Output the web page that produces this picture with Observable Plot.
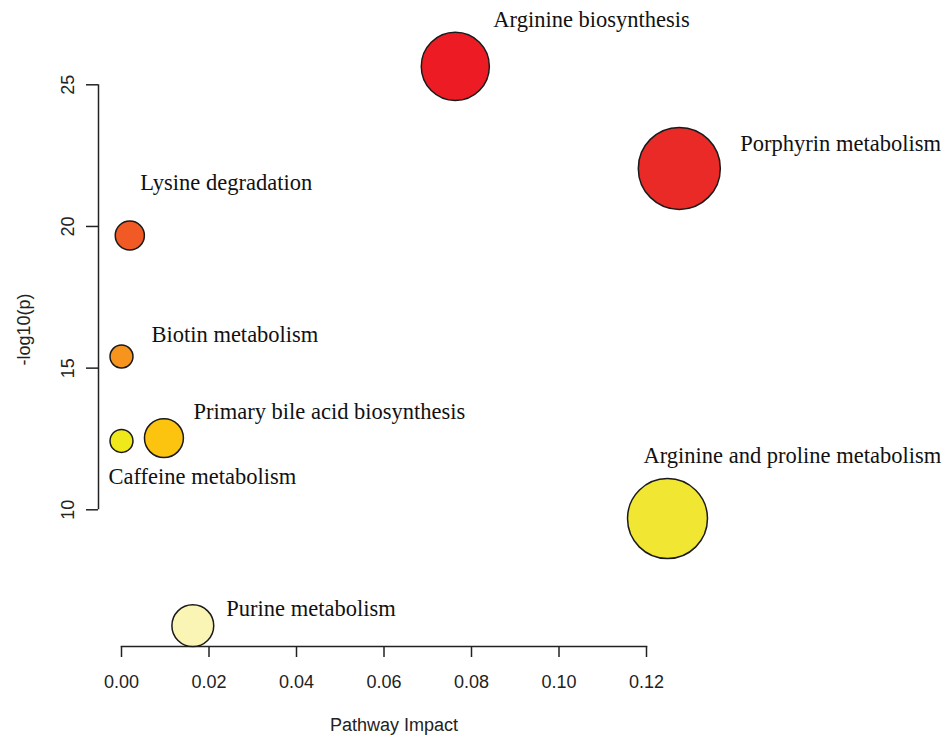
<!DOCTYPE html>
<html>
<head>
<meta charset="utf-8">
<script src="https://cdn.jsdelivr.net/npm/d3@7"></script>
<script src="https://cdn.jsdelivr.net/npm/@observablehq/plot@0.6"></script>
<style>
  html, body { margin: 0; padding: 0; background: #fff; }
  #chart svg { display: block; }
</style>
</head>
<body>
<div id="chart"></div>
<script>
// Pathway enrichment overview: impact vs. significance
const pathways = [
  "Arginine biosynthesis",
  "Porphyrin metabolism",
  "Lysine degradation",
  "Biotin metabolism",
  "Primary bile acid biosynthesis",
  "Caffeine metabolism",
  "Arginine and proline metabolism",
  "Purine metabolism"
];
const impact = [0.0763, 0.1275, 0.0019, 0.0, 0.0097, 0.0, 0.1248, 0.0163];
const logP   = [25.65, 22.05, 19.68, 15.41, 12.53, 12.43, 9.69, 5.91];
// relative bubble size (largest = 1)
const bubble = [0.83, 1.0, 0.355, 0.28, 0.475, 0.28, 0.975, 0.51];

const xTicks = [0, 0.02, 0.04, 0.06, 0.08, 0.10, 0.12];
const yTicks = [10, 15, 20, 25];

// heat palette, one per pathway
const palette = ["#ed1c24", "#ea2a26", "#f15a24", "#f7941d", "#fdc40f", "#efe81a", "#f1e733", "#fbf5b5"];

const data = pathways.map((name, i) => ({name, impact: impact[i], logP: logP[i], bubble: bubble[i]}));

// label placement (pixel offsets from the bubble centre)
const nudge = {
  "Arginine biosynthesis": [38, -47],
  "Porphyrin metabolism": [61, -25],
  "Lysine degradation": [10.5, -53],
  "Biotin metabolism": [30, -22],
  "Primary bile acid biosynthesis": [29.5, -26],
  "Caffeine metabolism": [-13, 36],
  "Arginine and proline metabolism": [-24, -63],
  "Purine metabolism": [33.5, -17]
};

const sans = "'Liberation Sans', Arial, sans-serif";
const serif = "'Liberation Serif', 'Times New Roman', serif";
const yAxisShift = -23;

const chart = Plot.plot({
  width: 946,
  height: 740,
  marginLeft: 121,
  marginRight: 300,
  marginTop: 0,
  marginBottom: 94,
  style: {fontFamily: sans, fontSize: "18px", color: "#222", background: "#fff", overflow: "visible"},
  x: {domain: [0, 0.12]},
  y: {domain: [10, 25], range: [509.3, 84.3]},
  r: {domain: [0, 1], range: [0, 41], type: "linear"},
  color: {domain: pathways, range: palette},
  marks: [
    // x axis: line along the bottom of the frame, ticks and labels
    Plot.frame({anchor: "bottom", stroke: "#222", strokeWidth: 1.5}),
    Plot.axisX({ticks: xTicks, tickSize: 11, tickPadding: 18, tickFormat: d3.format(".2f"), label: null, fontSize: 18, stroke: "#222", strokeWidth: 1.5}),
    Plot.text(["Pathway Impact"], {frameAnchor: "bottom", dx: 10, dy: 79, fontSize: 18, fill: "#222", lineAnchor: "middle"}),
    // y axis: offset from the plotting region, rotated labels
    Plot.ruleX([0], {y1: yTicks[0], y2: yTicks[yTicks.length - 1], dx: yAxisShift, stroke: "#222", strokeWidth: 1.5}),
    Plot.axisY({ticks: yTicks, tickSize: 12, tickFormat: () => "", label: null, dx: yAxisShift, stroke: "#222", strokeWidth: 1.5}),
    Plot.text(yTicks, {y: d => d, text: d => String(d), frameAnchor: "left", dx: -53, rotate: -90, fontSize: 18, fill: "#222", textAnchor: "middle", lineAnchor: "middle"}),
    Plot.text(["-log10(p)"], {frameAnchor: "left", dx: -97, dy: 6, rotate: -90, fontSize: 18, fill: "#222", textAnchor: "middle", lineAnchor: "middle"}),
    // bubbles
    Plot.dot(data, {x: "impact", y: "logP", r: "bubble", fill: "name", stroke: "#1a1a1a", strokeWidth: 1.5}),
    // pathway names
    ...data.map(d => Plot.text([d], {
      x: "impact", y: "logP", text: "name",
      dx: nudge[d.name][0], dy: nudge[d.name][1],
      textAnchor: "start", lineAnchor: "middle",
      fontFamily: serif, fontSize: 22.5, fill: "#111"
    }))
  ]
});

document.getElementById("chart").appendChild(chart);
</script>
</body>
</html>
